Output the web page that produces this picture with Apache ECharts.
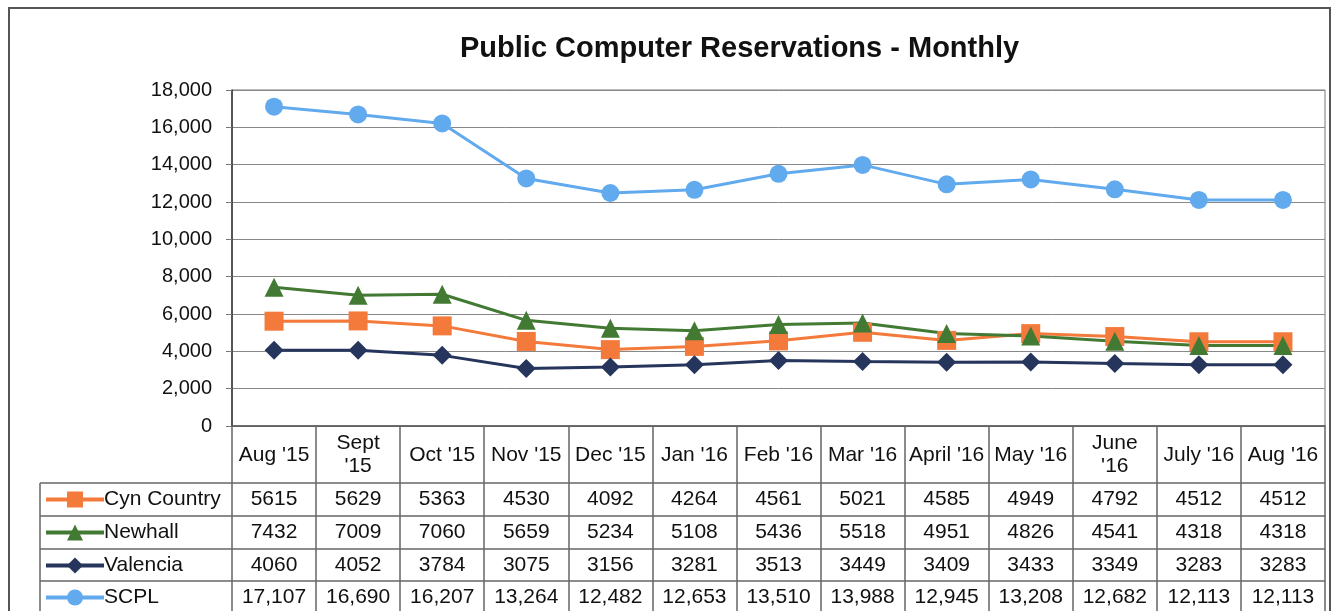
<!DOCTYPE html>
<html>
<head>
<meta charset="utf-8">
<script src="https://cdn.jsdelivr.net/npm/echarts@6/dist/echarts.min.js"></script>
<style>
  html, body { margin: 0; padding: 0; background: #fff; }
  #chart { width: 1334px; height: 611px; }
</style>
</head>
<body>
<div id="chart"></div>
<script>
var months = ["Aug '15", "Sept\n'15", "Oct '15", "Nov '15", "Dec '15", "Jan '16", "Feb '16",
    "Mar '16", "April '16", "May '16", "June\n'16", "July '16", "Aug '16"];
var cynCountry = [5615, 5629, 5363, 4530, 4092, 4264, 4561, 5021, 4585, 4949, 4792, 4512, 4512];
var newhall = [7432, 7009, 7060, 5659, 5234, 5108, 5436, 5518, 4951, 4826, 4541, 4318, 4318];
var valencia = [4060, 4052, 3784, 3075, 3156, 3281, 3513, 3449, 3409, 3433, 3349, 3283, 3283];
var scpl = [17107, 16690, 16207, 13264, 12482, 12653, 13510, 13988, 12945, 13208, 12682, 12113, 12113];
var seriesNames = ["Cyn Country", "Newhall", "Valencia", "SCPL"];
var yTicks = [0, 2000, 4000, 6000, 8000, 10000, 12000, 14000, 16000, 18000];

var font = "'Liberation Sans', Arial, sans-serif";
var ink = '#111';

// plot area and table layout
var gLeft = 232, gRight = 1325, gTop = 90, gBottom = 426;
var rowLines = [483, 516, 549, 581];
var rowMid = [499, 532, 565, 597];

function addCommas(v) {
    return String(v).replace(/\B(?=(\d{3})+(?!\d))/g, ',');
}

var chart = echarts.init(document.getElementById('chart'));

// one hidden-line x axis per table row, so the values sit under their month
function tableAxis(values, row, commas) {
    return {
        type: 'category',
        gridIndex: 0,
        position: 'bottom',
        data: values.map(function (v) { return commas ? addCommas(v) : String(v); }),
        boundaryGap: true,
        axisLine: { show: false },
        axisTick: { show: false },
        splitLine: { show: false },
        axisLabel: {
            interval: 0,
            margin: rowMid[row] - gBottom,
            verticalAlign: 'middle',
            fontFamily: font,
            fontSize: 21,
            color: ink
        }
    };
}

// one legend per table row
var legends = seriesNames.map(function (name, i) {
    return {
        orient: 'vertical',
        left: 44,
        top: rowMid[i] - 10,
        padding: 0,
        itemWidth: 58,
        itemHeight: 20,
        data: [name],
        lineStyle: { width: 4 },
        textStyle: { fontFamily: font, fontSize: 21, color: ink, padding: [0, 0, 0, -5] }
    };
});

var lines = [];
rowLines.forEach(function (y) {
    lines.push({
        type: 'line',
        shape: { x1: 40, y1: y, x2: gRight, y2: y },
        style: { stroke: '#666', lineWidth: 1.5 }
    });
});
lines.push({
    type: 'line',
    shape: { x1: 40, y1: rowLines[0], x2: 40, y2: 611 },
    style: { stroke: '#666', lineWidth: 1.5 }
});
lines.push({
    type: 'rect',
    shape: { x: 9, y: 8, width: 1321, height: 620 },
    style: { fill: null, stroke: '#555', lineWidth: 2 }
});
lines.push({
    type: 'text',
    left: 460,
    top: 34,
    style: {
        text: 'Public Computer Reservations - Monthly',
        font: 'bold 29px ' + font,
        fill: ink
    }
});

var option = {
    animation: false,
    backgroundColor: '#fff',
    grid: {
        left: gLeft,
        right: 1334 - gRight,
        top: gTop,
        bottom: 611 - gBottom,
        show: true,
        borderColor: '#777',
        borderWidth: 1
    },
    legend: legends,
    xAxis: [{
        type: 'category',
        data: months,
        boundaryGap: true,
        axisLine: { lineStyle: { color: '#555', width: 1.5 } },
        axisTick: { show: true, length: 611 - gBottom, lineStyle: { color: '#666', width: 1.5 } },
        axisLabel: {
            interval: 0,
            margin: 455 - gBottom,
            verticalAlign: 'middle',
            lineHeight: 23,
            fontFamily: font,
            fontSize: 21,
            color: ink
        }
    },
        tableAxis(cynCountry, 0, false),
        tableAxis(newhall, 1, false),
        tableAxis(valencia, 2, false),
        tableAxis(scpl, 3, true)
    ],
    yAxis: {
        type: 'value',
        min: yTicks[0],
        max: yTicks[yTicks.length - 1],
        interval: 2000,
        axisLine: { show: true, lineStyle: { color: '#333', width: 1.5 } },
        axisTick: { show: true, length: 6, lineStyle: { color: '#777' } },
        splitLine: { lineStyle: { color: '#888', width: 1 } },
        axisLabel: {
            margin: 20,
            fontFamily: font,
            fontSize: 20,
            color: ink,
            formatter: function (v) { return addCommas(v); }
        }
    },
    series: [{
        name: seriesNames[0],
        type: 'line',
        data: cynCountry,
        symbol: 'rect',
        symbolSize: 19,
        itemStyle: { color: '#F47A3C' },
        lineStyle: { color: '#F47A3C', width: 3 }
    }, {
        name: seriesNames[1],
        type: 'line',
        data: newhall,
        symbol: 'triangle',
        symbolSize: 19,
        itemStyle: { color: '#437A33' },
        lineStyle: { color: '#437A33', width: 3 }
    }, {
        name: seriesNames[2],
        type: 'line',
        data: valencia,
        symbol: 'diamond',
        symbolSize: 19,
        itemStyle: { color: '#26355C' },
        lineStyle: { color: '#26355C', width: 3 }
    }, {
        name: seriesNames[3],
        type: 'line',
        data: scpl,
        symbol: 'circle',
        symbolSize: 18,
        itemStyle: { color: '#62AAEE' },
        lineStyle: { color: '#62AAEE', width: 3 }
    }],
    graphic: lines
};

chart.setOption(option);
</script>
</body>
</html>
